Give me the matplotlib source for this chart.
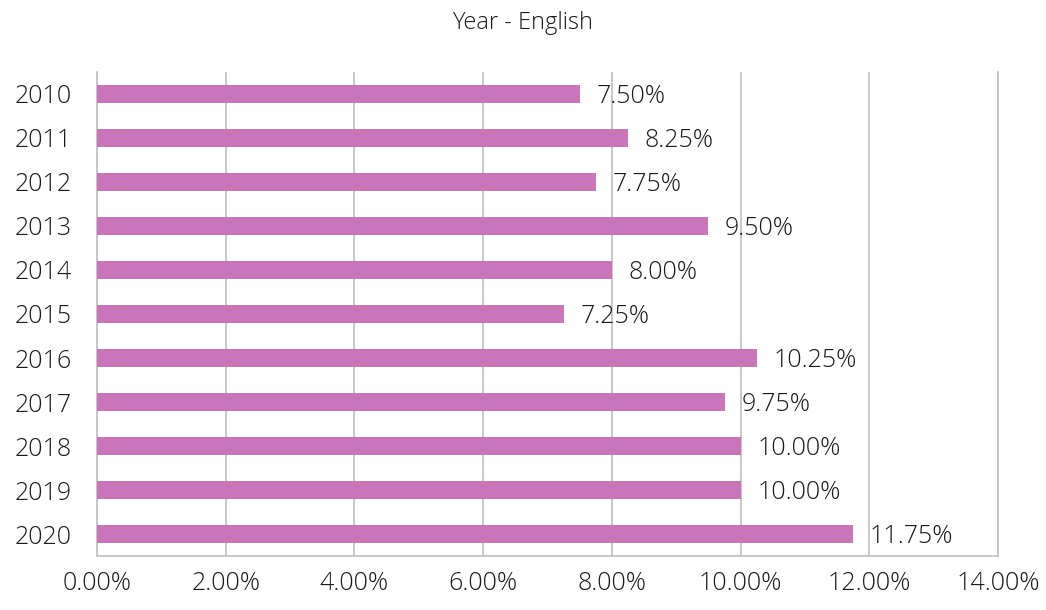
import matplotlib.pyplot as plt
import numpy as np

years = ['2010', '2011', '2012', '2013', '2014', '2015',
         '2016', '2017', '2018', '2019', '2020']
values = [7.50, 8.25, 7.75, 9.50, 8.00, 7.25, 10.25, 9.75, 10.00, 10.00, 11.75]
x_ticks = [0, 2, 4, 6, 8, 10, 12, 14]

plt.rcParams['font.family'] = ['Open Sans', 'DejaVu Sans']
plt.rcParams['font.weight'] = 'light'

fig = plt.figure(figsize=(10.46, 6.1), dpi=100)
ax = fig.add_axes([0.0927, 0.0885, 0.8615, 0.7935])

y = np.arange(len(years))
ax.barh(y, values, height=0.39, color='#C975BA', zorder=3)
for yi, v in zip(y, values):
    ax.annotate(f'{v:.2f}%', (v, yi), xytext=(12, -2), textcoords='offset points',
                ha='left', va='center', fontsize=18, color='#1a1a1a')

ax.set_xlim(0, 14)
ax.set_ylim(10.5, -0.5)
ax.set_xticks(x_ticks)
ax.set_xticklabels([f'{t:.2f}%' for t in x_ticks])
ax.set_yticks(y)
ax.set_yticklabels(years)
ax.tick_params(axis='both', length=0, labelsize=18, labelcolor='#1a1a1a')
ax.tick_params(axis='x', pad=11)
ax.tick_params(axis='y', pad=18)
ax.grid(axis='x', color='#BFBFBF', linewidth=1.2, zorder=0)

for s in ['left', 'bottom', 'right']:
    ax.spines[s].set_color('#BFBFBF')
    ax.spines[s].set_linewidth(1.2)
ax.spines['top'].set_visible(False)

fig.text(0.5, 0.963, 'Year - English', ha='center', va='center', fontsize=17, color='#1a1a1a')

fig.savefig('out.png', dpi=100)
